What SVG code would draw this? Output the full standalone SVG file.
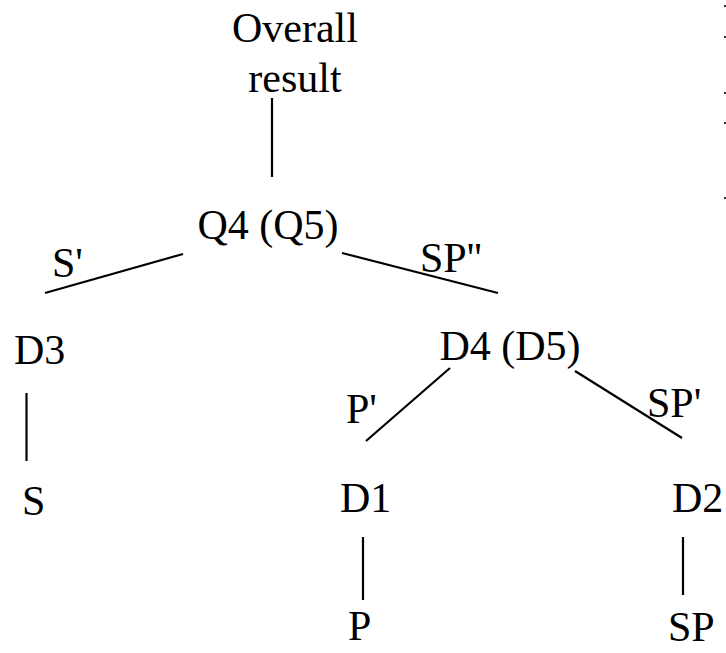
<svg xmlns="http://www.w3.org/2000/svg" width="726" height="653" viewBox="0 0 726 653">
  <style>
    .lbl { font-family: "Liberation Serif", "Times New Roman", serif; font-size: 42px; fill: #000; }
    .edge { stroke: #000; stroke-width: 2.2; fill: none; }
    .tick { fill: #333; }
  </style>
  <rect width="726" height="653" fill="#fff"/>

  <!-- connectors -->
  <g id="connectors">
    <line class="edge" x1="272" y1="98" x2="272" y2="177"/>
    <line class="edge" x1="45" y1="293" x2="183" y2="254"/>
    <line class="edge" x1="342" y1="253" x2="498" y2="293"/>
    <line class="edge" x1="26.5" y1="393" x2="26.5" y2="461"/>
    <line class="edge" x1="450" y1="368" x2="366" y2="441"/>
    <line class="edge" x1="575" y1="371" x2="682" y2="438"/>
    <line class="edge" x1="363" y1="537" x2="363" y2="600"/>
    <line class="edge" x1="683" y1="537" x2="683" y2="595"/>
  </g>

  <!-- edge labels -->
  <g id="edge-labels">
    <text class="lbl" x="52" y="277">S'</text>
    <text class="lbl" x="420" y="272">SP''</text>
    <text class="lbl" x="346" y="423">P'</text>
    <text class="lbl" x="647" y="417">SP'</text>
  </g>

  <!-- nodes -->
  <g id="root">
    <text class="lbl" x="295" y="42" text-anchor="middle">Overall</text>
    <text class="lbl" x="295" y="92" text-anchor="middle">result</text>
  </g>
  <g id="q4"><text class="lbl" x="268" y="239" text-anchor="middle">Q4 (Q5)</text></g>
  <g id="d3"><text class="lbl" x="14" y="364">D3</text></g>
  <g id="s"><text class="lbl" x="22" y="515">S</text></g>
  <g id="d4"><text class="lbl" x="510" y="360" text-anchor="middle">D4 (D5)</text></g>
  <g id="d1"><text class="lbl" x="340" y="512">D1</text></g>
  <g id="p"><text class="lbl" x="348" y="640">P</text></g>
  <g id="d2"><text class="lbl" x="672" y="512">D2</text></g>
  <g id="sp"><text class="lbl" x="668" y="641">SP</text></g>

  <!-- small marks along the right edge -->
  <g id="edge-marks">
    <rect class="tick" x="724" y="5" width="2" height="2"/>
    <rect class="tick" x="724" y="36" width="2" height="2"/>
    <rect class="tick" x="724" y="92" width="2" height="2"/>
    <rect class="tick" x="724" y="122" width="2" height="2"/>
    <rect class="tick" x="724" y="197" width="2" height="2"/>
  </g>
</svg>
